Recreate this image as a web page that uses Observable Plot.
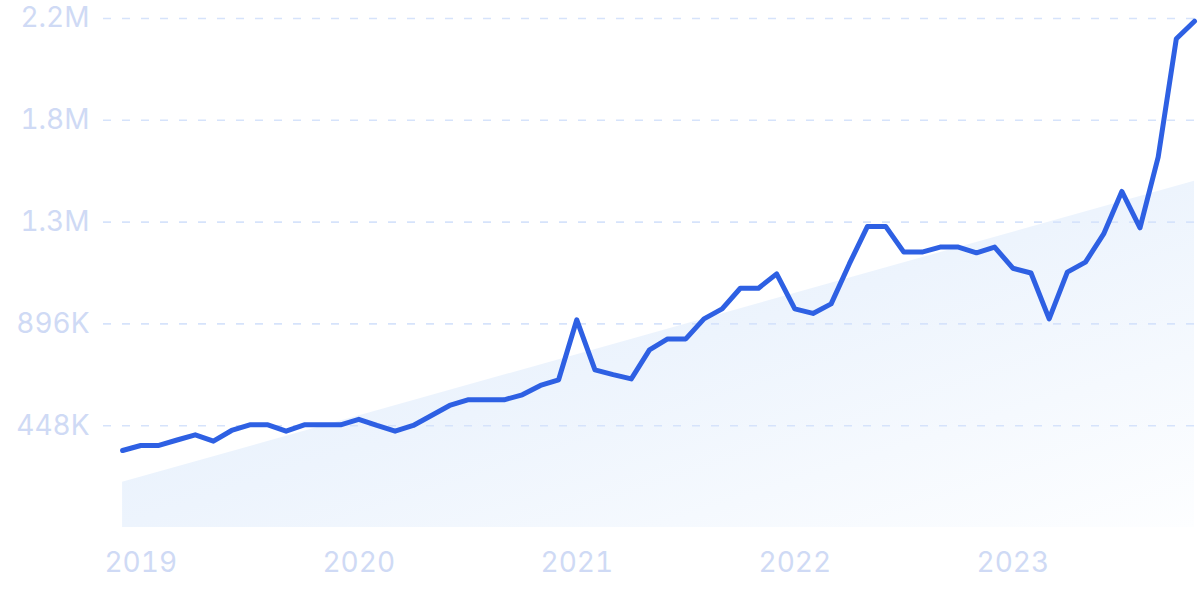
<!DOCTYPE html>
<html><head><meta charset="utf-8">
<script src="https://cdn.jsdelivr.net/npm/d3@7"></script>
<script src="https://cdn.jsdelivr.net/npm/@observablehq/plot@0.6"></script>
<style>html,body{margin:0;padding:0;background:#fff;}</style>
</head><body><div id="chart"></div>
<script>
// Monthly values, Dec 2018 .. Nov 2023
const startMonth = "2018-12-01";
const values = [
  339000, 361000, 361000, 385000, 408000, 380000, 427000, 452000, 452000, 424000, 452000, 452000,
  452000, 476000, 449000, 424000, 449000, 493000, 537000, 562000, 562000, 562000, 584000, 625000,
  650000, 914000, 694000, 673000, 654000, 782000, 830000, 830000, 918000, 962000, 1053000, 1053000,
  1116000, 962000, 942000, 984000, 1160000, 1325000, 1325000, 1212000, 1212000, 1234000, 1234000, 1209000,
  1234000, 1141000, 1120000, 918000, 1124000, 1168000, 1292000, 1479000, 1319000, 1630000, 2151000, 2228000
];
// Linear trend (start and end values)
const trendValues = [199000, 1524000];
const yTicks = [448000, 896000, 1344000, 1792000, 2240000];
const yTickLabels = ["448K", "896K", "1.3M", "1.8M", "2.2M"];
const yearLabels = ["2019", "2020", "2021", "2022", "2023"];

const start = new Date(startMonth);
const data = values.map((v, i) => ({i, date: d3.utcMonth.offset(start, i), value: v}));
const yearTickIdx = data.filter(d => d.date.getUTCMonth() === 0).map(d => d.i);
const trend = [{i: 0, value: trendValues[0]}, {i: values.length - 1, value: trendValues[1]}];

const labelColor = "#cfdaf5";

const defs = () => {
  const ns = "http://www.w3.org/2000/svg";
  const g = document.createElementNS(ns, "defs");
  const lg = document.createElementNS(ns, "linearGradient");
  lg.setAttribute("id", "trendFill");
  lg.setAttribute("x1", "0"); lg.setAttribute("y1", "0");
  lg.setAttribute("x2", "1"); lg.setAttribute("y2", "1");
  [["0", "#e2eefc"], ["0.5", "#edf4fd"], ["1", "#fdfeff"]].forEach(([o, c]) => {
    const s = document.createElementNS(ns, "stop");
    s.setAttribute("offset", o); s.setAttribute("stop-color", c);
    lg.appendChild(s);
  });
  g.appendChild(lg);
  return g;
};

const chart = Plot.plot({
  width: 1200,
  height: 599,
  marginLeft: 103,
  marginRight: 0,
  marginTop: 18,
  marginBottom: 72,
  style: {fontFamily: "Inter, sans-serif", fontSize: "28px", background: "#fff"},
  x: {type: "linear", domain: [-1.05, 59.33]},
  y: {domain: [0, 2240000]},
  marks: [
    defs,
    Plot.areaY(trend, {x: "i", y: "value", fill: "url(#trendFill)"}),
    Plot.ruleY(yTicks, {stroke: "#d6e3fb", strokeWidth: 1.6, strokeDasharray: "8,11"}),
    Plot.line(data, {x: "i", y: "value", stroke: "#2e60e3", strokeWidth: 5, strokeLinejoin: "round", strokeLinecap: "round"}),
    Plot.axisY(yTicks, {tickSize: 0, tickPadding: 14, color: labelColor, label: null,
      tickFormat: d => yTickLabels[yTicks.indexOf(d)]}),
    Plot.axisX(yearTickIdx, {tickSize: 0, tickPadding: 25, color: labelColor, label: null,
      tickFormat: d => yearLabels[yearTickIdx.indexOf(d)]})
  ]
});
document.getElementById("chart").appendChild(chart);
</script>
</body></html>
